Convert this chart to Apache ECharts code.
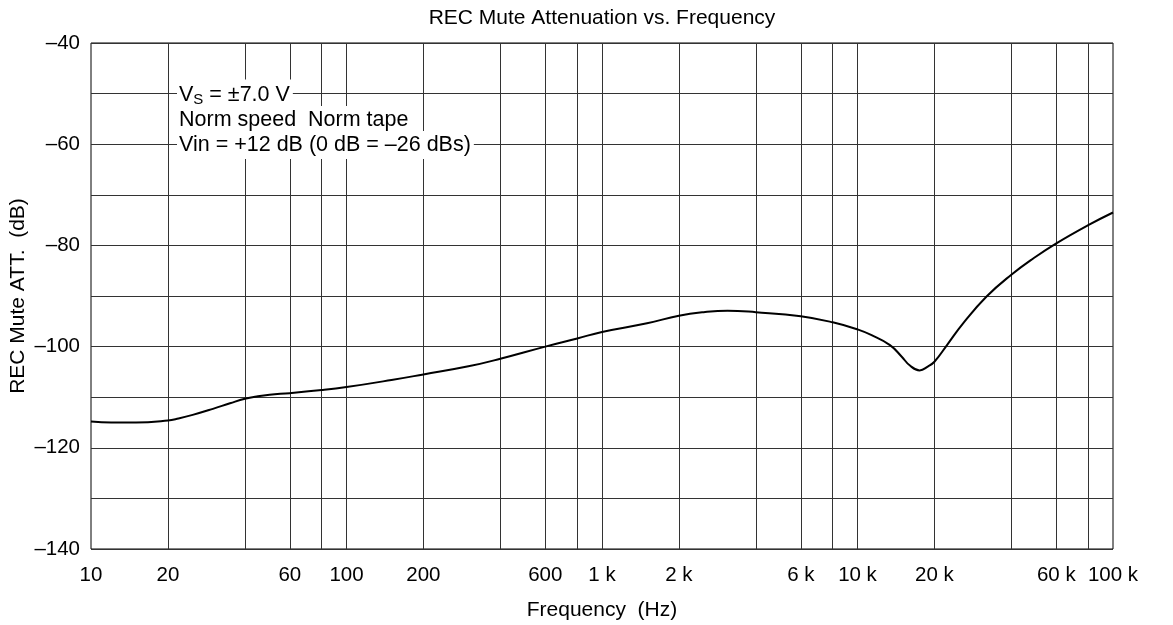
<!DOCTYPE html>
<html><head><meta charset="utf-8">
<script src="https://cdn.jsdelivr.net/npm/echarts@6/dist/echarts.min.js"></script>
<style>html,body{margin:0;padding:0;background:#fff}#c{width:1173px;height:625px}</style>
</head><body><div id="c"></div>
<script>
const chartTitle = 'REC Mute Attenuation vs. Frequency';
const xName = 'Frequency  (Hz)';
const yName = 'REC Mute ATT.  (dB)';

const freq = [10, 12, 15, 20, 22, 25, 30, 35, 40, 45, 50, 60, 80, 100, 150, 200, 300, 400, 600, 800,
  1000, 1500, 2000, 2500, 3100, 4000, 6000, 8000, 10000, 11300, 13400, 14900, 16000, 17500, 18900,
  20000, 22400, 25900, 32000, 40000, 49000, 60000, 80000, 100000];
const att = [-114.8, -115.0, -115.0, -114.6, -114.2, -113.5, -112.3, -111.2, -110.3, -109.8, -109.5, -109.2, -108.6, -108.0, -106.6, -105.5, -103.9, -102.4, -100.0, -98.4,
  -97.1, -95.4, -93.9, -93.2, -92.9, -93.2, -94.0, -95.2, -96.6, -97.7, -99.7, -102.0, -103.7, -104.7, -103.9,
  -103.0, -99.7, -95.4, -90.1, -85.8, -82.5, -79.6, -76.0, -73.5];

const xGridValues = [20, 40, 60, 80, 100, 200, 400, 600, 800, 1000, 2000, 4000, 6000, 8000,
  10000, 20000, 40000, 60000, 80000];
const xTickValues = [10, 20, 60, 100, 200, 600, 1000, 2000, 6000, 10000, 20000, 60000, 100000];
const xTickLabels = ['10', '20', '60', '100', '200', '600', '1 k', '2 k', '6 k', '10 k', '20 k', '60 k', '100 k'];
const yTickValues = [-140, -120, -100, -80, -60, -40];
const yTickLabels = ['–140', '–120', '–100', '–80', '–60', '–40'];

const noteLines = ['{n|V}{s|S}{n| = ±7.0 V}', 'Norm speed  Norm tape', 'Vin = +12 dB (0 dB = –26 dBs)'];

const FONT = '"Liberation Sans", Arial, Helvetica, sans-serif';
const chart = echarts.init(document.getElementById('c'), null, {renderer: 'canvas'});

// vertical grid lines + x tick labels via markLine on the log axis
const allX = Array.from(new Set(xGridValues.concat(xTickValues))).sort((a, b) => a - b);
const mlData = allX.map(v => {
  const li = xTickValues.indexOf(v);
  const isGrid = xGridValues.indexOf(v) >= 0;
  return {
    xAxis: v,
    name: li >= 0 ? xTickLabels[li] : '',
    lineStyle: {color: isGrid ? '#333' : 'rgba(0,0,0,0)', width: 1, type: 'solid'},
    label: {show: li >= 0}
  };
});

const option = {
  animation: false,
  backgroundColor: '#fff',
  grid: {left: 91, right: 60, top: 43, bottom: 76, show: true, borderColor: '#000', borderWidth: 1,
    containLabel: false, outerBoundsMode: 'none'},
  xAxis: {
    type: 'log', logBase: 10, min: 10, max: 100000,
    name: xName, nameLocation: 'middle', nameGap: 51, nameMoveOverlap: false,
    nameTextStyle: {fontFamily: FONT, fontSize: 21, color: '#000'},
    axisLine: {show: false}, axisTick: {show: false},
    axisLabel: {show: false}, splitLine: {show: false}
  },
  yAxis: {
    type: 'value', min: -140, max: -40, interval: 10,
    name: yName, nameLocation: 'middle', nameGap: 62, nameMoveOverlap: false,
    nameTextStyle: {fontFamily: FONT, fontSize: 21, color: '#000'},
    axisLine: {show: false}, axisTick: {show: false},
    axisLabel: {
      fontFamily: FONT, fontSize: 20.5, color: '#000', margin: 11,
      formatter: v => { const i = yTickValues.indexOf(v); return i >= 0 ? yTickLabels[i] : ''; }
    },
    splitLine: {show: true, lineStyle: {color: '#333', width: 1}}
  },
  graphic: [
    {type: 'text', x: 602, y: 18, style: {text: chartTitle, font: '21px ' + FONT, fill: '#000', align: 'center', verticalAlign: 'middle'}},
    {type: 'text', x: 177, y: 95, z: 100, style: {text: noteLines[0], fill: '#000', align: 'left', verticalAlign: 'middle',
      backgroundColor: '#fff', padding: [3, 3, 3, 2],
      rich: {n: {fontFamily: FONT, fontSize: 21.5, fill: '#000'}, s: {fontFamily: FONT, fontSize: 15, fill: '#000', padding: [10, 0, 0, 0]}}}},
    {type: 'text', x: 177, y: 120, z: 100, style: {text: noteLines[1], font: '21.5px ' + FONT, fill: '#000', align: 'left', verticalAlign: 'middle',
      backgroundColor: '#fff', padding: [3, 3, 3, 2]}},
    {type: 'text', x: 177, y: 145, z: 100, style: {text: noteLines[2], font: '21.5px ' + FONT, fill: '#000', align: 'left', verticalAlign: 'middle',
      backgroundColor: '#fff', padding: [3, 3, 3, 2]}}
  ],
  series: [{
    type: 'line',
    data: freq.map((f, i) => [f, att[i]]),
    showSymbol: false, symbol: 'none',
    smooth: 0.45,
    lineStyle: {color: '#000', width: 2},
    z: 10,
    markLine: {
      silent: true, symbol: ['none', 'none'], animation: false, z: 1,
      label: {position: 'start', distance: 16, formatter: '{b}', fontFamily: FONT, fontSize: 20.5, color: '#000'},
      emphasis: {disabled: true},
      data: mlData
    }
  }]
};
chart.setOption(option);
</script>
</body></html>
